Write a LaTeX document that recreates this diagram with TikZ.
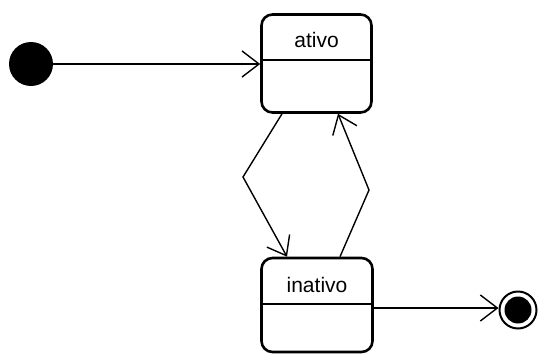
\documentclass[tikz,border=0pt]{standalone}
\usepackage{fontspec}
\setmainfont{Liberation Sans}
\usetikzlibrary{arrows.meta}
\begin{document}
\begin{tikzpicture}[x=1pt,y=-1pt,
  statebox/.style={draw, line width=2.6pt, rounded corners=11pt, inner sep=0pt},
  divider/.style={line width=1.4pt},
  lbl/.style={font=\fontsize{21}{24}\selectfont, inner sep=0pt},
  trans/.style={line width=1.4pt, -{Straight Barb[length=17pt,width=26pt,line width=1.4pt]}}]
  \useasboundingbox (0,0) rectangle (538,354);
  % states
  \node[statebox, minimum width=110pt, minimum height=98pt] (ativo) at (316.5,63.5) {};
  \draw[divider] (261.5,60) -- (371.5,60);
  \node[lbl] (ativolbl) at (316.5,40) {ativo};
  \node[statebox, minimum width=111pt, minimum height=94pt] (inativo) at (317,305) {};
  \draw[divider] (261.5,304) -- (372.5,304);
  \node[lbl] (inativolbl) at (317,285) {inativo};
  % pseudo states
  \node[circle, fill=black, minimum size=44pt, inner sep=0pt] (init) at (31,64) {};
  \node[circle, draw=black, line width=2pt, minimum size=37pt, inner sep=0pt] (final) at (518,310) {};
  \fill[black] (final.center) circle (13.5pt);
  % bend points
  \coordinate (b1) at (243,177);
  \coordinate (b2) at (369,190);
  % transitions
  \draw[trans] (init) -- (init -| ativo.west);
  \draw[trans] ([xshift=-34.5pt]ativo.south) -- (b1) -- ([xshift=-30pt]inativo.north);
  \draw[trans] ([xshift=23pt]inativo.north) -- (b2) -- ([xshift=21.5pt]ativo.south);
  \draw[trans] (inativo.east |- 0,308) -- (final.west |- 0,308);
\end{tikzpicture}
\end{document}
